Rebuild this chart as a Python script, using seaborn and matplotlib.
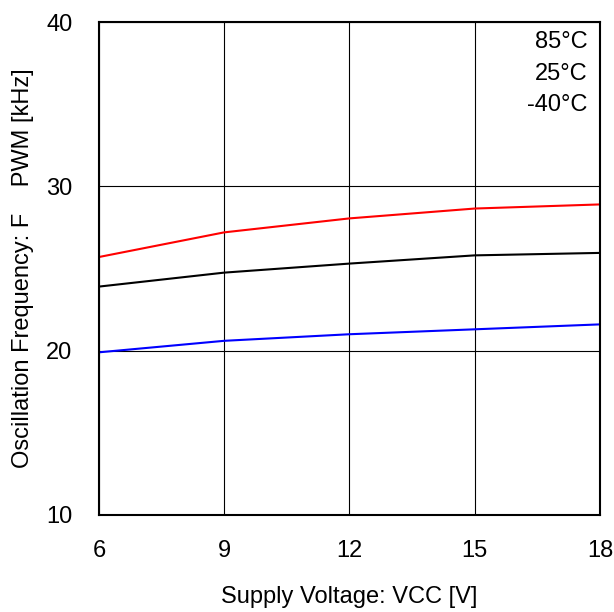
import seaborn as sns
import matplotlib.pyplot as plt
import pandas as pd

# Supply voltage [V]
vcc = [6, 9, 12, 15, 18]

# Oscillation frequency [kHz] per temperature
f_85 = [25.7, 27.2, 28.05, 28.65, 28.9]
f_25 = [23.9, 24.75, 25.3, 25.8, 25.95]
f_m40 = [19.9, 20.6, 21.0, 21.3, 21.6]

temps = ['85°C', '25°C', '-40°C']
colors = ['#ff0000', '#000000', '#0000ff']

df = pd.DataFrame({
    'vcc': vcc * 3,
    'freq': f_85 + f_25 + f_m40,
    'temp': [t for t in temps for _ in vcc],
})

sns.set_style('white')
plt.rcParams['font.family'] = ['Liberation Sans', 'DejaVu Sans']
plt.rcParams['text.color'] = 'black'
plt.rcParams['axes.labelcolor'] = 'black'
plt.rcParams['xtick.color'] = 'black'
plt.rcParams['ytick.color'] = 'black'

fig = plt.figure(figsize=(6.14, 6.12), dpi=100)
ax = fig.add_axes([0.1612, 0.1585, 0.8158, 0.8055])

sns.lineplot(data=df, x='vcc', y='freq', hue='temp', palette=colors,
             hue_order=temps, linewidth=1.5, legend=False, ax=ax)

ax.set_xlim(6, 18)
ax.set_ylim(10, 40)
ax.set_xticks([6, 9, 12, 15, 18])
ax.set_yticks([10, 20, 30, 40])
ax.grid(True, color='black', linewidth=0.8)
for s in ax.spines.values():
    s.set_color('black')
    s.set_linewidth(1.5)
ax.tick_params(axis='x', labelsize=17, length=0, pad=18)
ax.tick_params(axis='y', labelsize=17, length=0, pad=19)

ax.set_xlabel('Supply Voltage: VCC [V]', fontsize=17, labelpad=17)
ax.set_ylabel('Oscillation Frequency: F    PWM [kHz]', fontsize=17, labelpad=9)

# temperature labels in the top right corner
for i, t in enumerate(temps):
    ax.text(0.975, 0.959 - i * 0.0635, t, transform=ax.transAxes,
            ha='right', va='center', fontsize=17)

plt.savefig('out.png', dpi=100)
